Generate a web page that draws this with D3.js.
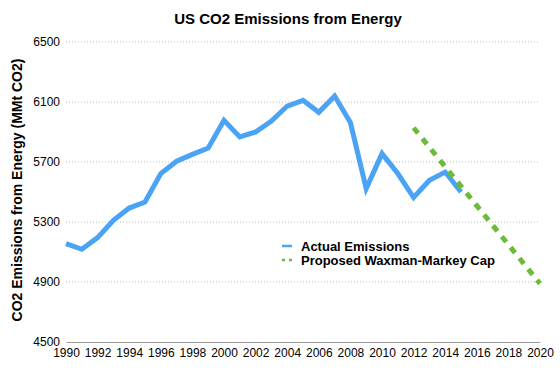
<!DOCTYPE html>
<html>
<head>
<meta charset="utf-8">
<script src="https://cdn.jsdelivr.net/npm/d3@7"></script>
<style>
  body { margin: 0; background: #fff; }
  svg text { font-family: "Liberation Sans", Arial, sans-serif; fill: #000; }
</style>
</head>
<body>
<div id="chart"></div>
<script>
// data
var years = [1990, 1991, 1992, 1993, 1994, 1995, 1996, 1997, 1998, 1999,
             2000, 2001, 2002, 2003, 2004, 2005, 2006, 2007, 2008, 2009,
             2010, 2011, 2012, 2013, 2014, 2015];
var actual = [5156, 5118, 5196, 5311, 5393, 5433, 5623, 5705, 5751, 5793,
              5978, 5867, 5900, 5973, 6073, 6111, 6031, 6140, 5963, 5523,
              5756, 5623, 5463, 5578, 5633, 5500];
var capYears = [2012, 2020];
var capValues = [5928, 4889];
var yTicks = [4500, 4900, 5300, 5700, 6100, 6500];
var xTicks = [1990, 1992, 1994, 1996, 1998, 2000, 2002, 2004, 2006, 2008,
              2010, 2012, 2014, 2016, 2018, 2020];

var svgWidth = 560;
var svgHeight = 376;

var margin = { top: 42, right: 20, bottom: 34, left: 66 };
var width = svgWidth - margin.left - margin.right;
var height = svgHeight - margin.top - margin.bottom;

var svg = d3.select("#chart")
    .append("svg")
    .attr("width", svgWidth)
    .attr("height", svgHeight);

var chartGroup = svg.append("g")
    .attr("transform", `translate(${margin.left}, ${margin.top})`);

var xScale = d3.scaleLinear()
    .domain([1990, 2020])
    .range([0, width]);

var yScale = d3.scaleLinear()
    .domain([4500, 6500])
    .range([height, 0]);

// gridlines
chartGroup.selectAll(".grid")
    .data(yTicks.slice(1))
    .enter()
    .append("line")
    .attr("x1", 0)
    .attr("x2", width)
    .attr("y1", d => yScale(d))
    .attr("y2", d => yScale(d))
    .attr("stroke", "#bbb")
    .attr("stroke-width", 1)
    .attr("stroke-dasharray", "1,2");

// y axis (labels only)
var leftAxis = d3.axisLeft(yScale).tickValues(yTicks).tickSize(0).tickPadding(6).tickFormat(d3.format("d"));
var yAxisG = chartGroup.append("g").call(leftAxis);
yAxisG.select(".domain").remove();
yAxisG.selectAll("text").attr("font-size", 12).style("font-family", "Liberation Sans, Arial, sans-serif");

// x axis
var bottomAxis = d3.axisBottom(xScale).tickValues(xTicks).tickSize(0).tickPadding(6).tickFormat(d3.format("d"));
var xAxisG = chartGroup.append("g")
    .attr("transform", `translate(0, ${height})`)
    .call(bottomAxis);
xAxisG.select(".domain").attr("stroke", "#999").attr("stroke-width", 1);
xAxisG.selectAll("text").attr("font-size", 12).style("font-family", "Liberation Sans, Arial, sans-serif");

// lines
var line = d3.line()
    .x(d => xScale(d[0]))
    .y(d => yScale(d[1]));

var actualData = years.map((y, i) => [y, actual[i]]);
var capData = capYears.map((y, i) => [y, capValues[i]]);

chartGroup.append("path")
    .datum(actualData)
    .attr("d", line)
    .attr("fill", "none")
    .attr("stroke", "#4aa3f5")
    .attr("stroke-width", 5)
    .attr("stroke-linejoin", "miter");

chartGroup.append("path")
    .datum(capData)
    .attr("d", line)
    .attr("fill", "none")
    .attr("stroke", "#6cba3c")
    .attr("stroke-width", 5)
    .attr("stroke-dasharray", "7,7");

// title
svg.append("text")
    .attr("x", 288)
    .attr("y", 24)
    .attr("text-anchor", "middle")
    .attr("font-size", 15)
    .attr("font-weight", "bold")
    .text("US CO2 Emissions from Energy");

// y label
svg.append("text")
    .attr("transform", "rotate(-90)")
    .attr("x", -190)
    .attr("y", 22)
    .attr("text-anchor", "middle")
    .attr("font-size", 14)
    .attr("font-weight", "bold")
    .text("CO2 Emissions from Energy (MMt CO2)");

// legend
var legend = svg.append("g").attr("transform", "translate(282, 246)");
legend.append("line")
    .attr("x1", 0).attr("x2", 10).attr("y1", 0).attr("y2", 0)
    .attr("stroke", "#4aa3f5").attr("stroke-width", 2.5);
legend.append("text")
    .attr("x", 19).attr("y", 4.5)
    .attr("font-size", 13).attr("font-weight", "bold")
    .text("Actual Emissions");
legend.append("line")
    .attr("x1", 0).attr("x2", 10).attr("y1", 14).attr("y2", 14)
    .attr("stroke", "#6cba3c").attr("stroke-width", 2.5)
    .attr("stroke-dasharray", "3,4");
legend.append("text")
    .attr("x", 19).attr("y", 18.5)
    .attr("font-size", 13).attr("font-weight", "bold")
    .text("Proposed Waxman-Markey Cap");
</script>
</body>
</html>
